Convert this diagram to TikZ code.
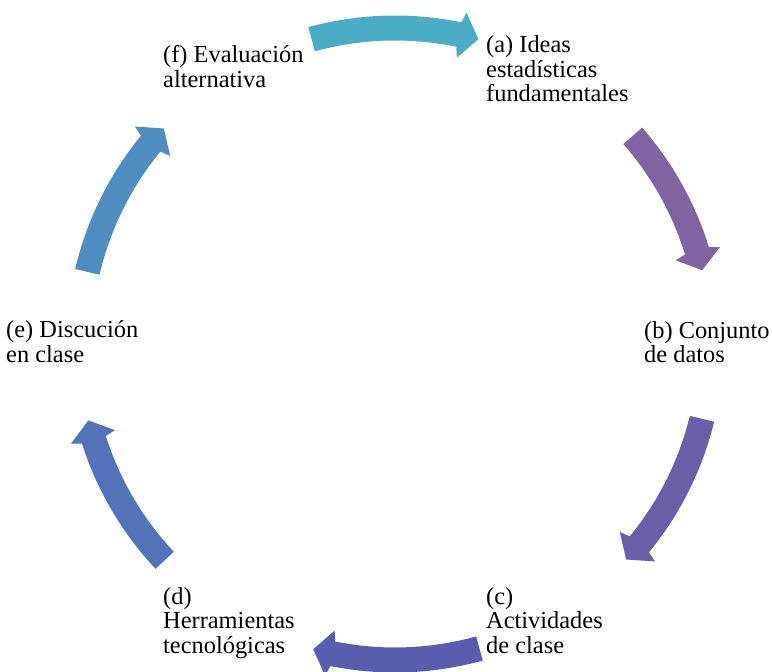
\documentclass[tikz,border=0pt]{standalone}
\usepackage{fontspec}
\setmainfont{Liberation Serif}
\usetikzlibrary{calc}

\definecolor{arrTeal}{HTML}{4BACC6}
\definecolor{arrPurple}{HTML}{8064A2}
\definecolor{arrViolet}{HTML}{6B5DA7}
\definecolor{arrIndigo}{HTML}{5A5DAE}
\definecolor{arrBlue}{HTML}{5472B8}
\definecolor{arrSky}{HTML}{4F8DC1}

% geometry of the cycle ring (in pt)
\def\cycR{316}
\def\cycHalfW{12.5}
\def\cycHalfHead{23}

% curved block arrow, clockwise from tail angle #2 to tip angle #3
\newcommand\cyclearrow[3]{%
  \pgfmathsetmacro\cycAb{#3+3.1}%
  \pgfmathsetmacro\cycAj{#3+3.65}%
  \pgfmathsetmacro\cycRo{\cycR+\cycHalfW}%
  \pgfmathsetmacro\cycRi{\cycR-\cycHalfW}%
  \pgfmathsetmacro\cycHo{\cycR+\cycHalfHead}%
  \pgfmathsetmacro\cycHi{\cycR-\cycHalfHead}%
  \fill[#1] ($(C)+(#2:\cycRo pt)$)
    arc[start angle=#2, end angle=\cycAj, radius=\cycRo pt]
    -- ($(C)+(\cycAb:\cycHo pt)$)
    -- ($(C)+(#3:\cycR pt)$)
    -- ($(C)+(\cycAb:\cycHi pt)$)
    -- ($(C)+(\cycAj:\cycRi pt)$)
    arc[start angle=\cycAj, end angle=#2, radius=\cycRi pt]
    -- cycle;}

\tikzset{
  lbl/.style={anchor=base west, inner sep=0pt}
}
\newcommand\lbltext[1]{\parbox[t]{8cm}{\raggedright\rmfamily\fontsize{24.4}{24.5}\selectfont #1}}

\begin{document}
\begin{tikzpicture}[x=1pt,y=1pt]
  \useasboundingbox (0,0) rectangle (772,672);
  \coordinate (C) at (395,328);

  % arrows of the cycle
  \cyclearrow{arrTeal}{105.3}{74.7}
  \cyclearrow{arrPurple}{41.2}{13.5}
  \cyclearrow{arrViolet}{-13.7}{-43}
  \cyclearrow{arrIndigo}{-74.5}{-105}
  \cyclearrow{arrBlue}{-136.8}{-166}
  \cyclearrow{arrSky}{166.8}{137}

  % stage labels
  \node[lbl] (ideas) at (486,619.3) {\lbltext{(a) Ideas\\estadísticas\\fundamentales}};
  \node[lbl] (datos) at (644,333.7) {\lbltext{(b) Conjunto\\de datos}};
  \node[lbl] (actividades) at (486,67.7) {\lbltext{(c)\\Actividades\\de clase}};
  \node[lbl] (herramientas) at (163,67.7) {\lbltext{(d)\\Herramientas\\tecnológicas}};
  \node[lbl] (discusion) at (6,334.3) {\lbltext{(e) Discución\\en clase}};
  \node[lbl] (evaluacion) at (163,609.3) {\lbltext{(f) Evaluación\\alternativa}};
\end{tikzpicture}
\end{document}
